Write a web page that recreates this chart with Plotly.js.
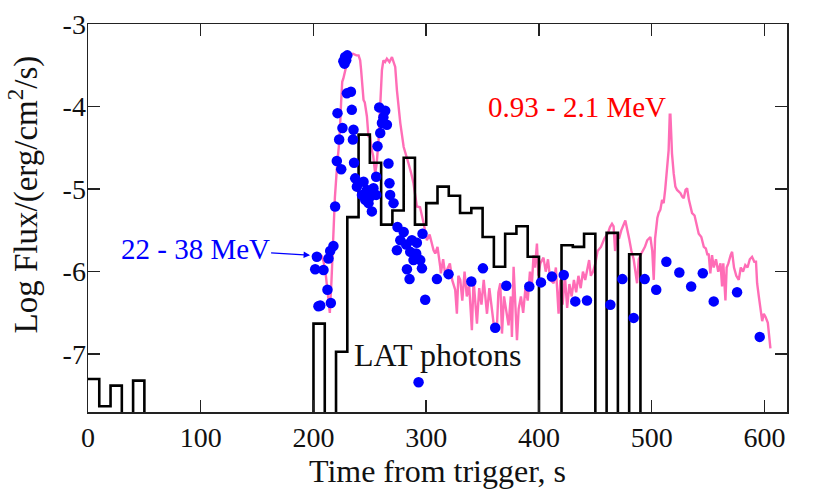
<!DOCTYPE html>
<html>
<head>
<meta charset="utf-8">
<script src="https://cdn.plot.ly/plotly-3.0.1.min.js"></script>
<style>
  html, body { margin: 0; padding: 0; background: #fff; }
  #chart { width: 830px; height: 489px; }
</style>
</head>
<body>
<div id="chart"></div>
<script>
// 0.93-2.1 MeV light curve (time s, log flux)
const lcTime = [207, 209, 211, 213, 214.5, 216, 217.5, 219, 221, 223, 224.5, 225.5, 226.5, 228, 229.6, 231, 232.5, 235, 238, 240,
  241.4, 242.2, 243, 244.4, 245.5, 247.4, 248.8, 250, 251.8, 253, 254.7, 256, 257.7, 259.2, 260.7, 262, 263.5, 265.1, 267.4, 269.6,
  271, 272.5, 274, 275.5, 277, 280, 282, 284.3, 286.5, 288.7, 291.7, 294.5, 297.5, 300.6, 303, 305, 306.5, 308, 310, 312.4,
  313, 315, 317, 318.4, 321, 323, 325.7, 327.2, 328.5, 330.2, 332, 334, 336, 338, 340.5, 342, 344, 345, 347, 349,
  351, 353.9, 356, 358, 359.8, 362.7, 364, 365.7, 367.2, 369, 371, 373, 375, 376, 377.5, 379, 380.5, 382, 384, 386,
  388, 390, 392, 393.5, 395.2, 396.5, 398.2, 399.5, 401.2, 404, 406, 408, 410, 413, 415, 417.4, 419, 421, 423, 425,
  427, 429, 431, 433, 435, 437, 439, 441, 443, 444.5, 446, 448, 450, 452, 455, 458, 461, 463, 464.8, 466.2,
  467.5, 469, 471, 473, 476.6, 478.1, 480, 482, 484, 487, 488.5, 490, 492, 494, 496, 498.8, 500.5, 501.8, 503, 505,
  506.2, 507.7, 509.2, 510.6, 512, 513, 514, 515, 516, 516.6, 517.5, 518, 519.5, 521, 522.5, 525.5, 527, 528.4, 530, 531.4,
  533, 535, 535.8, 538, 540, 541.7, 544, 546.2, 548, 549.5, 550.5, 552, 553.5, 555, 557, 559, 561, 562.4, 563.5, 565.4,
  566.5, 568, 570, 571.3, 573, 575, 577.2, 579, 581, 583, 585, 587, 589, 591, 592.5, 593.5, 595, 596.4, 598, 599.4,
  601, 603, 605.3];
const lcFlux = [-5.80, -5.88, -6.05, -6.30, -6.50, -6.10, -5.62, -5.10, -4.70, -4.41, -3.95, -3.70, -3.66, -3.55, -3.48, -3.40, -3.37, -3.36, -3.38, -3.38,
  -3.44, -3.55, -3.68, -3.92, -3.95, -4.12, -4.37, -4.35, -4.53, -4.60, -4.81, -4.70, -4.41, -3.92, -3.56, -3.44, -3.46, -3.42, -3.46, -3.40,
  -3.45, -3.52, -3.80, -4.05, -4.20, -4.49, -4.60, -4.69, -4.80, -4.93, -5.21, -5.22, -5.40, -5.62, -5.55, -5.66, -5.74, -5.78, -5.70, -5.94,
  -6.02, -5.85, -6.05, -5.98, -5.90, -6.10, -6.22, -6.51, -6.05, -6.10, -6.35, -6.00, -6.30, -6.15, -6.71, -6.10, -6.45, -6.63, -6.20, -6.40,
  -6.10, -6.51, -6.20, -6.45, -6.63, -6.67, -6.25, -6.14, -6.75, -6.30, -6.45, -6.65, -6.30, -6.79, -5.94, -6.40, -6.83, -6.45, -6.30, -6.50,
  -6.20, -6.35, -6.00, -6.20, -5.80, -5.95, -5.66, -6.05, -5.90, -5.83, -6.00, -5.85, -6.10, -6.14, -5.95, -6.51, -6.10, -6.40, -6.05, -6.44,
  -6.15, -6.30, -6.10, -6.25, -6.05, -6.20, -6.00, -6.10, -5.95, -5.86, -6.05, -6.00, -5.90, -5.75, -5.70, -5.60, -5.54, -5.46, -5.42, -5.45,
  -5.75, -5.55, -5.60, -5.50, -5.38, -5.50, -5.60, -5.75, -5.85, -6.14, -5.85, -5.80, -5.75, -5.70, -5.62, -5.58, -5.75, -6.10, -5.60, -5.35,
  -5.29, -5.25, -5.13, -5.17, -5.00, -4.85, -4.65, -4.53, -4.10, -4.10, -4.40, -4.57, -4.81, -4.97, -5.01, -5.05, -5.09, -5.11, -5.01, -4.99,
  -5.13, -5.25, -5.29, -5.32, -5.45, -5.54, -5.58, -5.70, -5.72, -5.80, -5.78, -6.02, -5.80, -5.95, -5.85, -6.00, -5.90, -6.18, -5.90, -6.35,
  -5.95, -5.90, -5.80, -5.76, -5.95, -6.05, -6.10, -5.95, -6.00, -5.92, -5.95, -5.85, -5.82, -5.88, -5.88, -6.14, -6.30, -6.43, -6.60, -6.51,
  -6.55, -6.62, -6.93];

// 22-38 MeV points
const hiTime = [201.5, 203, 208.9, 204.4, 206, 212.4, 215.4, 213.3, 214.8, 217.7, 219.2, 220.7, 224.6, 222.8, 225.7, 221.3, 229.6, 233.2, 226.5, 228,
  230, 227.5, 229, 234, 235.5, 235, 236, 237, 238.5, 244.4, 247.4, 243, 250.3, 253.2, 255.6, 248.8, 251.8, 245.9, 255.6, 258.3,
  263.6, 262, 265.1, 260.7, 259.2, 256.8, 266.5, 267.4, 268, 271, 274.5, 280, 277, 274, 282.2, 287.3, 291.7, 285.8, 291.1, 294.7,
  296.2, 288.7, 282.9, 285.2, 296.7, 299.1, 293.2, 309.5, 319.8, 340, 350.3, 361.2, 371, 391.4, 401.8, 411.5, 422, 432.2, 442.6, 463.3,
  474, 484, 493.8, 504, 513, 524.5, 535, 545.3, 555, 575.7, 595.8];
const hiFlux = [-5.97, -5.82, -5.98, -6.42, -6.41, -6.22, -6.38, -5.84, -5.75, -5.69, -5.21, -4.66, -4.76, -4.40, -4.26, -4.08, -3.84, -3.82, -3.45, -3.40,
  -3.38, -3.48, -3.44, -4.04, -4.28, -4.40, -4.68, -4.87, -4.97, -4.91, -5.01, -5.07, -5.09, -4.99, -4.85, -5.17, -5.27, -5.13, -5.07, -4.01,
  -4.05, -4.13, -4.22, -4.20, -4.32, -4.48, -4.69, -4.93, -5.07, -5.17, -5.46, -5.52, -5.62, -5.74, -5.67, -5.62, -5.65, -5.76, -5.78, -5.86,
  -5.96, -5.86, -5.97, -6.09, -5.54, -6.34, -7.34, -6.09, -6.03, -6.12, -5.96, -6.68, -6.17, -6.18, -6.13, -6.06, -6.04, -6.36, -6.35, -6.40,
  -6.09, -6.56, -6.09, -6.22, -5.88, -6.01, -6.18, -6.02, -6.36, -6.25, -6.79];

// LAT photons, 10 s bins (left edges); empty bins sit below the axis
const latBin = [0, 10, 20, 30, 40, 50, 190, 200, 210, 220, 230, 240, 250, 260, 270, 280, 290, 300, 310, 320,
  330, 340, 350, 360, 370, 380, 390, 400, 410, 420, 430, 440, 450, 460, 470, 480, 490, 500];
const latFlux = [-7.30, -7.63, -7.38, -9, -7.32, -9, -9, -6.63, -9, -6.97, -5.34, -4.34, -4.68, -5.43, -5.26, -4.62, -5.43, -5.17, -4.97, -5.08,
  -5.29, -5.23, -5.58, -5.94, -5.54, -5.45, -5.82, -9, -9, -5.68, -5.70, -5.54, -9, -5.53, -9, -5.79, -9, -9];

const xTicks = [0, 100, 200, 300, 400, 500, 600];
const yTicks = [-7, -6, -5, -4, -3];
const yTickText = ['-7', '-6', '-5', '-4', '-3'];

const font = 'Liberation Serif, Times New Roman, serif';

const traces = [
  {
    x: lcTime, y: lcFlux, type: 'scatter', mode: 'lines',
    line: { color: '#ff6db6', width: 2.4 },
  },
  {
    x: latBin, y: latFlux, type: 'scatter', mode: 'lines',
    line: { color: '#000', width: 2.6, shape: 'hv' },
  },
  {
    x: hiTime, y: hiFlux, type: 'scatter', mode: 'markers',
    marker: { color: '#0000ff', size: 10.5 },
  },
];

const axisCommon = {
  showline: true, linecolor: '#222', linewidth: 1.5, mirror: 'ticks',
  ticks: 'inside', ticklen: 12, tickwidth: 1.5, tickcolor: '#222',
  showgrid: false, zeroline: false,
  tickfont: { family: font, size: 28, color: '#111' },
};

const layout = {
  width: 830, height: 489,
  margin: { l: 88, r: 43, t: 24, b: 77 },
  paper_bgcolor: '#fff', plot_bgcolor: '#fff',
  showlegend: false,
  font: { family: font, color: '#111' },
  xaxis: {
    ...axisCommon,
    range: [0, 620], tickvals: xTicks,
    title: { text: 'Time from trigger, s', font: { family: font, size: 32, color: '#111' }, standoff: 2 },
  },
  yaxis: {
    ...axisCommon,
    range: [-7.7, -3], tickvals: yTicks, ticktext: yTickText,
    ticklabelstandoff: -5,
  },
  annotations: [
    {
      xref: 'paper', yref: 'paper', x: -0.092, y: 0.56, xanchor: 'center', yanchor: 'middle',
      textangle: -90, showarrow: false,
      text: 'Log Flux/(erg/cm<sup>2</sup>/s)', font: { family: font, size: 33, color: '#111' },
    },
    {
      x: 433.7, y: -4.0, xref: 'x', yref: 'y', showarrow: false,
      text: '0.93 - 2.1 MeV', font: { family: font, size: 29, color: '#ff0000' },
    },
    {
      x: 197, y: -5.8, xref: 'x', yref: 'y', axref: 'x', ayref: 'y', ax: 95, ay: -5.72,
      text: '22 - 38 MeV', font: { family: font, size: 29, color: '#0000ff' },
      showarrow: true, arrowhead: 2, arrowsize: 1, arrowwidth: 1.3, arrowcolor: '#0000ff',
    },
    {
      x: 310, y: -7.01, xref: 'x', yref: 'y', showarrow: false,
      text: 'LAT photons', font: { family: font, size: 32, color: '#111' },
    },
  ],
};

Plotly.newPlot('chart', traces, layout, { displayModeBar: false, staticPlot: true });
</script>
</body>
</html>
